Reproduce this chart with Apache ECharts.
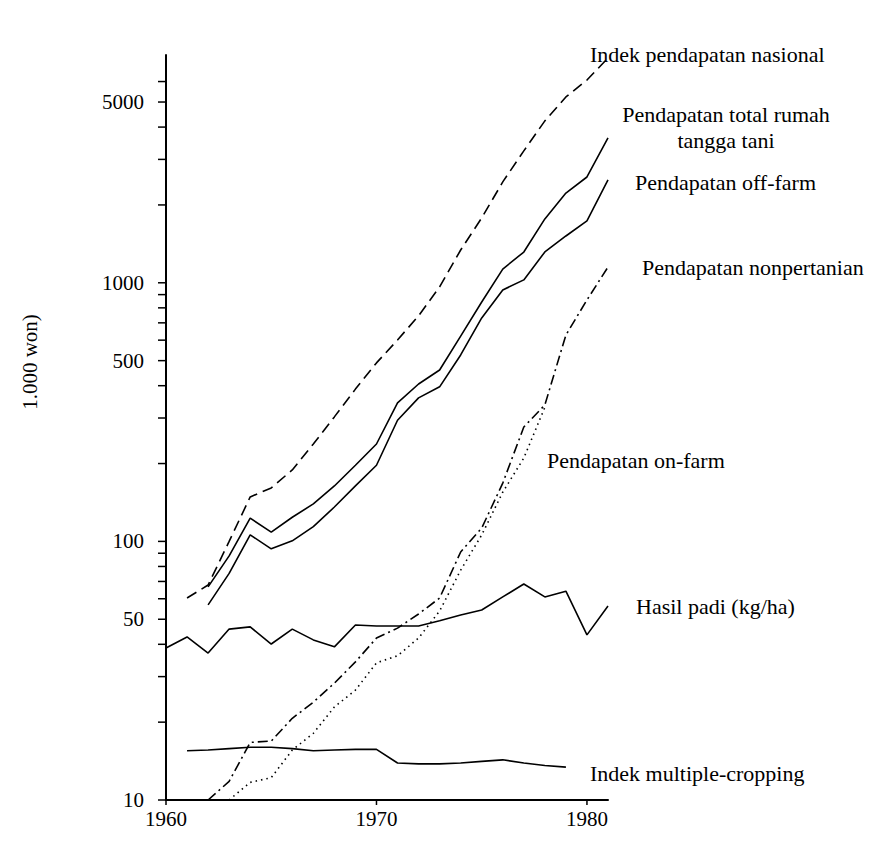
<!DOCTYPE html>
<html>
<head>
<meta charset="utf-8">
<script src="https://cdn.jsdelivr.net/npm/echarts@6/dist/echarts.min.js"></script>
<style>
html,body{margin:0;padding:0;background:#fff;}
#chart{width:883px;height:842px;}
</style>
</head>
<body>
<div id="chart"></div>
<script>
// ---- Data (log scale, 1.000 won) ----
const yearsNasional = [1961,1962,1963,1964,1965,1966,1967,1968,1969,1970,1971,1972,1973,1974,1975,1976,1977,1978,1979,1980,1981];
const nasional      = [60.4,67.8,100,148.6,161,189,238,303,388,490,601,745,964,1339,1782,2455,3236,4227,5230,6080,7400];

const yearsTotal = [1962,1963,1964,1965,1966,1967,1968,1969,1970,1971,1972,1973,1974,1975,1976,1977,1978,1979,1980,1981];
const totalRT    = [66.7,87.9,123,108.6,124,139.6,163.8,197,238,343,406,460,622,843,1130,1315,1766,2223,2565,3630];

const yearsOff = [1962,1963,1964,1965,1966,1967,1968,1969,1970,1971,1972,1973,1974,1975,1976,1977,1978,1979,1980,1981];
const offFarm  = [56.8,75.2,106,93.6,100.5,114,135.8,164,197,294,359,396,526,731,938,1026,1316,1517,1734,2500];

const yearsNonPert = [1962,1963,1964,1965,1966,1967,1968,1969,1970,1971,1972,1973,1974,1975,1976,1977,1978,1979,1980,1981];
const nonPert      = [10,11.8,16.7,16.9,20.7,23.9,28.3,34.2,42.3,46.2,52.4,60.4,91,112.6,168,277,337,628,858,1151];

const yearsOnFarm = [1963,1964,1965,1966,1967,1968,1969,1970,1971,1972,1973,1974,1975,1976,1977,1978];
const onFarm      = [10,11.7,12.2,15.6,18.1,22.9,26.6,33.9,36.1,42.3,53.8,77.4,105.9,155,210,330];

const yearsPadi = [1960,1961,1962,1963,1964,1965,1966,1967,1968,1969,1970,1971,1972,1973,1974,1975,1976,1977,1978,1979,1980,1981];
const hasilPadi = [38.7,42.7,37.0,45.8,46.7,40.1,45.8,41.6,39.1,47.5,47.1,47.1,47.1,49.3,51.9,54.3,61,68.4,61.0,64.2,43.5,56.3];

const yearsCrop = [1961,1962,1963,1964,1965,1966,1967,1968,1969,1970,1971,1972,1973,1974,1975,1976,1977,1978,1979];
const multiCrop = [15.5,15.6,15.8,16.0,16.0,15.8,15.5,15.6,15.7,15.7,13.9,13.8,13.8,13.9,14.1,14.3,13.9,13.6,13.4];

const xTickLabels = [1960,1970,1980];
const yTickLabels = [10,50,100,500,1000,5000];
const yMinorTicks = [10,20,30,40,50,60,70,80,90,100,200,300,400,500,600,700,800,900,1000,2000,3000,4000,5000,6000];

const seriesNames = ['Indek pendapatan nasional','Pendapatan total rumah tangga tani','Pendapatan off-farm',
  'Pendapatan nonpertanian','Pendapatan on-farm','Hasil padi (kg/ha)','Indek multiple-cropping'];

function pairs(xs, ys){ return xs.map((x,i)=>[x, ys[i]]); }

const FONT = '"Liberation Serif", "Times New Roman", serif';
const INK = '#000';
const X_MIN = 1960, X_MAX = 1981, Y_MIN = 10, Y_MAX = 7600;

const chart = echarts.init(document.getElementById('chart'), null, {renderer:'svg'});

function lineSeries(name, data, type){
  return {
    name: name, type:'line', data: data, showSymbol:false, symbol:'none',
    lineStyle:{color:INK, width:1.6, type:type},
    animation:false, silent:true
  };
}

const LBL = '22px ' + FONT;

const option = {
  backgroundColor:'#fff',
  animation:false,
  grid:{left:166, top:55, width:442, bottom:42, containLabel:false},
  xAxis:{
    type:'value', min:X_MIN, max:X_MAX,
    axisLine:{show:true, lineStyle:{color:INK, width:2}},
    axisTick:{show:false},
    axisLabel:{customValues:xTickLabels, color:INK, fontFamily:FONT, fontSize:21, margin:8,
      formatter:v=>String(Math.round(v))},
    splitLine:{show:false}
  },
  yAxis:{
    type:'log', logBase:10, min:Y_MIN, max:Y_MAX,
    axisLine:{show:true, lineStyle:{color:INK, width:2}},
    axisTick:{show:false},
    axisLabel:{customValues:yTickLabels, color:INK, fontFamily:FONT, fontSize:21, margin:22,
      formatter:v=>String(Math.round(v))},
    splitLine:{show:false}
  },
  series:[
    lineSeries(seriesNames[0], pairs(yearsNasional, nasional), [11,6]),
    lineSeries(seriesNames[1], pairs(yearsTotal, totalRT), 'solid'),
    lineSeries(seriesNames[2], pairs(yearsOff, offFarm), 'solid'),
    lineSeries(seriesNames[3], pairs(yearsNonPert, nonPert), [10,4,2,4]),
    lineSeries(seriesNames[4], pairs(yearsOnFarm, onFarm), [1.5,4]),
    lineSeries(seriesNames[5], pairs(yearsPadi, hasilPadi), 'solid'),
    lineSeries(seriesNames[6], pairs(yearsCrop, multiCrop), 'solid'),
    // y-axis tick marks (log minor ticks 1..9 per decade)
    {
      type:'custom', name:'yTicks', silent:true, animation:false, clip:false,
      data: yMinorTicks.map(v=>[X_MIN, v]),
      renderItem:function(params, api){
        const p = api.coord([api.value(0), api.value(1)]);
        return {type:'line', shape:{x1:p[0]-8, y1:p[1], x2:p[0], y2:p[1]},
          style:{stroke:INK, lineWidth:1.5}};
      }
    },
    // x-axis tick marks
    {
      type:'custom', name:'xTicks', silent:true, animation:false, clip:false,
      data: xTickLabels.map(v=>[v, Y_MIN]),
      renderItem:function(params, api){
        const p = api.coord([api.value(0), api.value(1)]);
        return {type:'line', shape:{x1:p[0], y1:p[1], x2:p[0], y2:p[1]+5},
          style:{stroke:INK, lineWidth:1.5}};
      }
    }
  ],
  graphic:[
    {type:'text', x:30, y:362, rotation:Math.PI/2,
      style:{text:'1.000 won)', font:'21px '+FONT, fill:INK, textAlign:'center', textVerticalAlign:'middle'}},
    {type:'text', x:590, y:54, style:{text:seriesNames[0], font:LBL, fill:INK, textAlign:'left', textVerticalAlign:'middle'}},
    {type:'text', x:726, y:127, style:{text:'Pendapatan total rumah\ntangga tani', font:LBL, lineHeight:26, fill:INK, textAlign:'center', textVerticalAlign:'middle'}},
    {type:'text', x:635, y:182, style:{text:seriesNames[2], font:LBL, fill:INK, textAlign:'left', textVerticalAlign:'middle'}},
    {type:'text', x:642, y:267, style:{text:seriesNames[3], font:LBL, fill:INK, textAlign:'left', textVerticalAlign:'middle'}},
    {type:'text', x:547, y:460, style:{text:seriesNames[4], font:LBL, fill:INK, textAlign:'left', textVerticalAlign:'middle'}},
    {type:'text', x:636, y:606, style:{text:seriesNames[5], font:LBL, fill:INK, textAlign:'left', textVerticalAlign:'middle'}},
    {type:'text', x:590, y:773, style:{text:seriesNames[6], font:LBL, fill:INK, textAlign:'left', textVerticalAlign:'middle'}}
  ]
};
chart.setOption(option);
</script>
</body>
</html>
